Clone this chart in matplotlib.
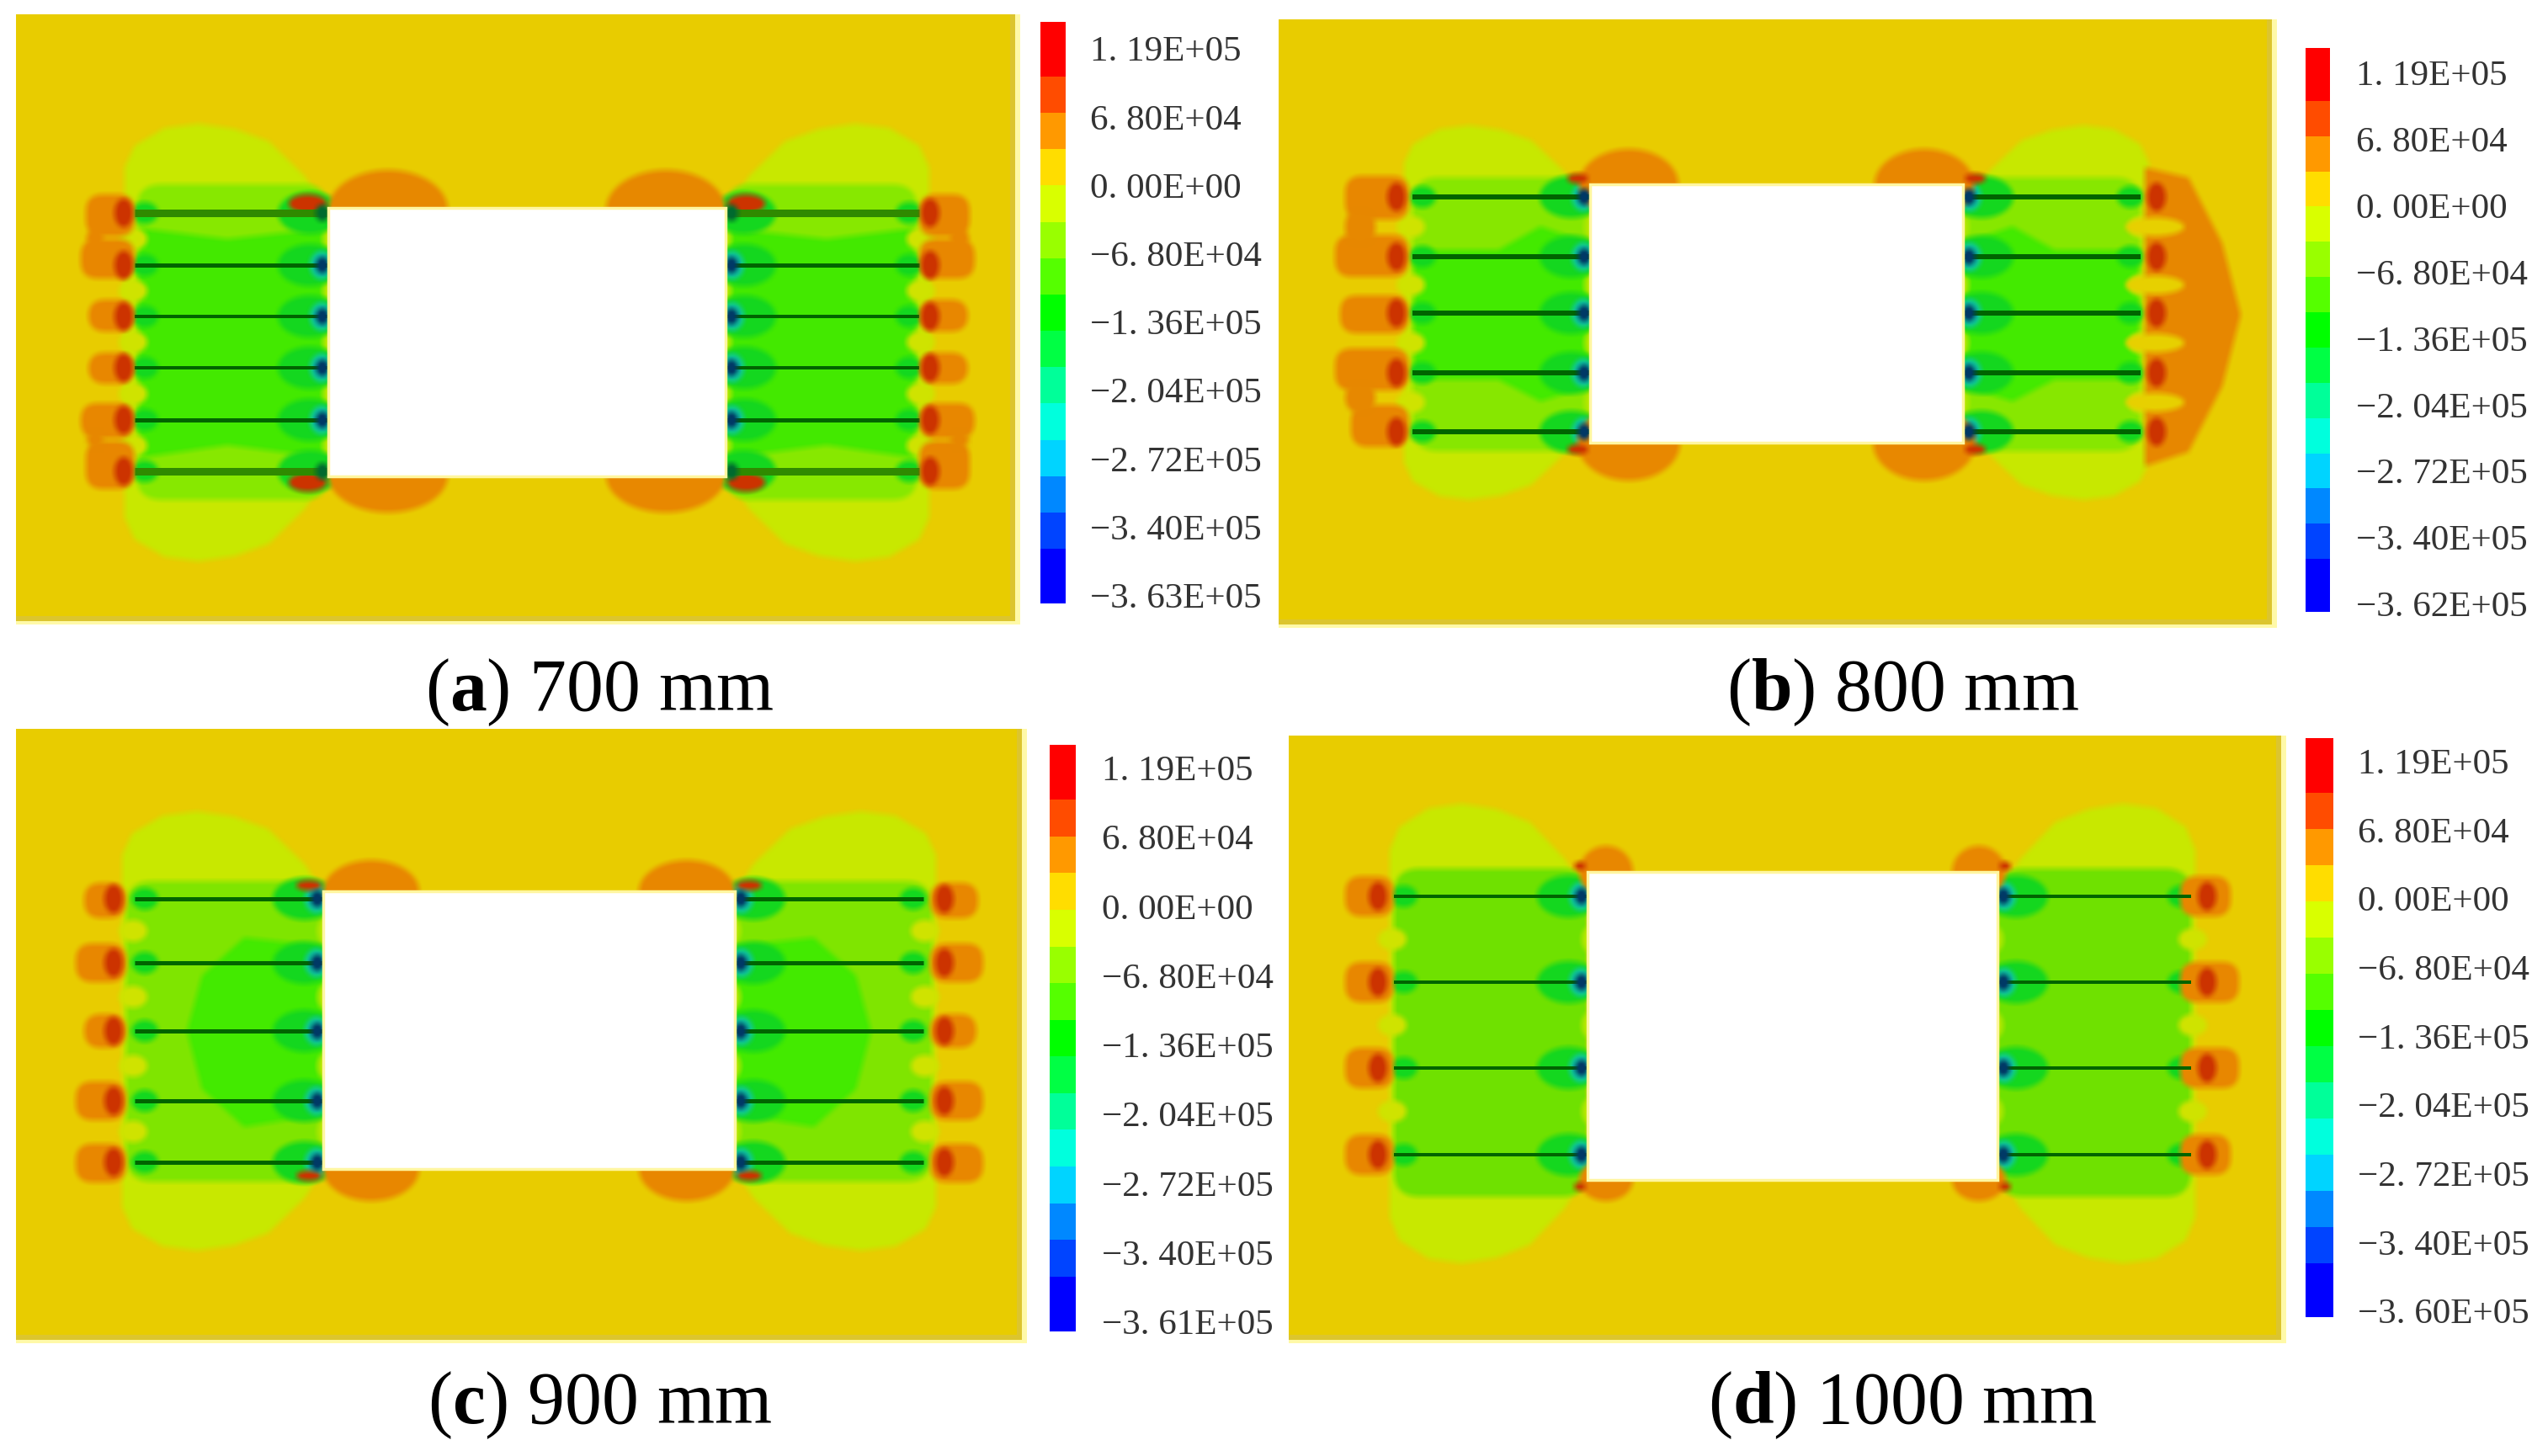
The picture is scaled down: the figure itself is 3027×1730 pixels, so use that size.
import numpy as np
import matplotlib
matplotlib.use("Agg")
import matplotlib.pyplot as plt
from matplotlib.colors import ListedColormap
from matplotlib.patches import Ellipse, FancyBboxPatch, Polygon, Rectangle

plt.rcParams['font.family'] = ['Liberation Serif', 'DejaVu Serif']
plt.rcParams['mathtext.fontset'] = 'custom'
plt.rcParams['mathtext.rm'] = 'Liberation Serif'
plt.rcParams['mathtext.bf'] = 'Liberation Serif:bold'

# colour legend
band_colors = ['#ff0000', '#ff4c00', '#ff9900', '#ffdd00', '#d9ff00', '#99ff00', '#55ff00', '#00ff00',
               '#00ff44', '#00ff99', '#00ffdd', '#00d4ff', '#0088ff', '#0044ff', '#0000ff']
band_weights = [1.5] + [1] * 13 + [1.5]
legend_values = ['1. 19E+05', '6. 80E+04', '0. 00E+00', '−6. 80E+04', '−1. 36E+05',
                 '−2. 04E+05', '−2. 72E+05', '−3. 40E+05']
legend_min = ['−3. 63E+05', '−3. 62E+05', '−3. 61E+05', '−3. 60E+05']
captions = [r'($\mathbf{a}$) 700 mm', r'($\mathbf{b}$) 800 mm', r'($\mathbf{c}$) 900 mm', r'($\mathbf{d}$) 1000 mm']

# all geometry below is in picture pixels
frames = [(19, 1212, 18, 743), (1519, 2705, 24, 747), (19, 1220, 867, 1597), (1531, 2716, 875, 1597)]
holes = [(390, 862, 248, 567), (1889, 2332, 220, 527), (384, 873, 1060, 1390), (1886, 2373, 1037, 1403)]
rows = [[254, 316, 377, 438, 500, 561], [235, 306, 373, 444, 514],
        [1069, 1145, 1226, 1309, 1382], [1066, 1168, 1270, 1373]]
line_starts = [160, 1678, 160, 1656]
red_x = [147, 1659, 135, 1637]
bars = [(1236, 1266, 27, 718), (2739, 2768, 58, 728), (1247, 1278, 886, 1583), (2739, 2772, 878, 1566)]
label_x = [1295, 2799, 1309, 2801]
label_y = [(62, 712), (91, 722), (917, 1575), (909, 1562)]
caption_pos = [(712, 823), (2260, 823), (712, 1670), (2260, 1670)]

# domes above and below the bolt field: x0, x1, y0, y1, and the upper half of their outline as fractions
lime_domes = [(148, 386, 148, 668), (1668, 1878, 150, 595), (145, 386, 965, 1487), (1651, 1882, 956, 1502)]
dome_outline = [(0, 0.5), (0, 0.1), (0.05, 0.05), (0.2, 0.01), (0.37, 0), (0.55, 0.012), (0.72, 0.04), (0.9, 0.12), (1.0, 0.19), (1.0, 0.5)]
lime_bands = [(162, 390, 220, 595), (1678, 1889, 212, 537), (150, 384, 1048, 1405), (1656, 1886, 1033, 1423)]
lime_band_colors = ['#88e800', '#88e800', '#80e600', '#6fe200']
green_polys = [
    [(165, 272), (270, 285), (390, 272), (390, 545), (270, 530), (165, 545)],
    [(1680, 298), (1780, 298), (1830, 270), (1889, 290), (1889, 460), (1830, 478), (1780, 452), (1680, 452)],
    [(222, 1226), (240, 1160), (290, 1115), (384, 1125), (384, 1325), (290, 1340), (240, 1295)],
    [],
]
corner_tops = [(461, 250, 142, 94), (1935, 220, 118, 84), (441, 1060, 114, 74), (1908, 1037, 64, 62)]
corner_bottoms = [(461, 566, 142, 88), (1935, 527, 122, 90), (441, 1390, 114, 76), (1908, 1403, 64, 50)]
corner_red = [(45, 22), (25, 12), (30, 12), (14, 10)]
lobes_left = [
    [(102, 160, 232, 282), (96, 160, 285, 332), (105, 160, 357, 395), (105, 160, 420, 457), (96, 160, 480, 522), (102, 160, 525, 582),
     (102, 124, 270, 297), (102, 124, 512, 535)],
    [(1598, 1674, 210, 262), (1586, 1674, 280, 330), (1592, 1674, 352, 397), (1586, 1674, 415, 465), (1605, 1674, 482, 532),
     (1598, 1634, 250, 292), (1598, 1634, 455, 492)],
    [(100, 150, 1050, 1092), (90, 150, 1122, 1168), (100, 150, 1206, 1246), (90, 150, 1286, 1332), (90, 150, 1360, 1406)],
    [(1598, 1656, 1042, 1090), (1598, 1656, 1144, 1192), (1598, 1656, 1246, 1294), (1598, 1656, 1349, 1397)],
]
lobes_right = [
    [(1092, 1152, 232, 282), (1092, 1158, 285, 332), (1092, 1150, 357, 395), (1092, 1150, 420, 457), (1092, 1158, 480, 522), (1092, 1152, 525, 582),
     (1128, 1152, 270, 297), (1128, 1152, 512, 535)],
    [],
    [(1105, 1162, 1050, 1092), (1105, 1168, 1122, 1168), (1105, 1160, 1206, 1246), (1105, 1168, 1286, 1332), (1105, 1168, 1360, 1406)],
    [(2590, 2650, 1042, 1090), (2590, 2660, 1144, 1192), (2590, 2660, 1246, 1294), (2590, 2650, 1349, 1397)],
]
big_blob_b = [(2548, 200), (2600, 212), (2640, 290), (2662, 375), (2640, 460), (2600, 538), (2548, 555)]
line_widths = [[9, 5, 4, 4, 5, 9], [6, 6, 6, 6, 6], [5, 5, 5, 5, 5], [4, 4, 4, 4]]
blue_outer = [False, True, True, True]

BG = '#e8cc00'
LIME = '#c8e800'
GREEN = '#44ea00'
ORANGE = '#e88800'
DARK_RED = '#cc3300'
LINE = '#006400'
GLOW = '#14d820'
DOT = '#003a66'


def soften(img, dpi):
    # the reference is an upscaled raster, edges are blurry
    pad = 8
    solid = img[..., 3] > 0.99
    color = img[solid][:, :3].mean(axis=0) if solid.any() else img[..., :3].max(axis=(0, 1))
    alpha = np.pad(img[..., 3], pad)
    for axis in (0, 1):
        alpha = sum(np.roll(alpha, k, axis=axis) for k in range(-4, 5)) / 9
    out = np.zeros(alpha.shape + (4,))
    out[..., :3] = color
    out[..., 3] = alpha
    return out, -pad, -pad


def add(ax, patch, z, blur=True):
    if blur:
        patch.set_agg_filter(soften)
    patch.set_zorder(z)
    ax.add_patch(patch)


def ellipse(cx, cy, w, h, color):
    return Ellipse((cx, cy), w, h, facecolor=color, edgecolor='none')


def box(x0, x1, y0, y1, color, round_size=16):
    return FancyBboxPatch((x0, y0), x1 - x0, y1 - y0, boxstyle=f'round,pad=0,rounding_size={round_size}',
                          facecolor=color, edgecolor='none')


def dome_points(x0, x1, y0, y1):
    upper = [(x0 + u * (x1 - x0), y0 + v * (y1 - y0)) for u, v in dome_outline]
    lower = [(x0 + u * (x1 - x0), y1 - v * (y1 - y0)) for u, v in reversed(dome_outline)]
    return upper + lower


fig = plt.figure(figsize=(30.27, 17.31), dpi=100)
ax = fig.add_axes([0, 0, 1, 1])
ax.set_xlim(0, 3027)
ax.set_ylim(1731, 0)
ax.axis('off')

for i in range(4):
    fx0, fx1, fy0, fy1 = frames[i]
    hx0, hx1, hy0, hy1 = holes[i]
    mid = (hx0 + hx1) / 2
    flip = lambda x: 2 * mid - x

    add(ax, Rectangle((fx0, fy0), fx1 - fx0, fy1 - fy0, facecolor='#fff9a8', edgecolor='none'), 1, blur=False)
    add(ax, Rectangle((fx0, fy0), fx1 - fx0 - 6, fy1 - fy0 - 4, facecolor='#dcc52e', edgecolor='none'), 1.1, blur=False)
    add(ax, Rectangle((fx0, fy0), fx1 - fx0 - 12, fy1 - fy0 - 10, facecolor=BG, edgecolor='none'), 1.2, blur=False)

    for side in (False, True):
        fx = flip if side else (lambda x: x)
        dome = [(fx(x), y) for x, y in dome_points(*lime_domes[i])]
        add(ax, Polygon(dome, facecolor=LIME, edgecolor='none'), 2)

        bx0, bx1, by0, by1 = lime_bands[i]
        bx = sorted((fx(bx0), fx(bx1)))
        add(ax, box(bx[0], bx[1], by0, by1, lime_band_colors[i], 30), 3)
        if green_polys[i]:
            add(ax, Polygon([(fx(x), y) for x, y in green_polys[i]], facecolor=GREEN, edgecolor='none'), 4)

        ys = rows[i]
        start = fx(line_starts[i])
        end = hx1 if side else hx0
        sign = 1 if side else -1

        # pale wedges between the rows, at both ends
        for y0, y1 in zip(ys[:-1], ys[1:]):
            ym = (y0 + y1) / 2
            add(ax, ellipse(end - sign * 2, ym, 18, 30, '#b8e800'), 5)
            add(ax, ellipse(start + sign * 2, ym, 34, 26, '#d0e400'), 5)

        # green glow round the bolt heads at the hole and at the far end
        for j, y in enumerate(ys):
            add(ax, ellipse(end + sign * 22, y, 76, 50, GLOW), 5.5)
            add(ax, ellipse(start - sign * 12, y, 32, 26, GLOW), 5.5)
            outer = j in (0, len(ys) - 1)
            if blue_outer[i] or not outer:
                add(ax, ellipse(end + sign * 8, y, 28, 34, '#10c8a0'), 6)

        # orange lobes outside the bolts
        lobes = lobes_right[i] if side else lobes_left[i]
        for x0, x1, y0, y1 in lobes:
            add(ax, box(x0, x1, y0, y1, ORANGE, 20), 7)
        if side and i == 1:
            add(ax, Polygon(big_blob_b, facecolor=ORANGE, edgecolor='none'), 7)
            for y0, y1 in zip(ys[:-1], ys[1:]):
                ym = (y0 + y1) / 2
                add(ax, ellipse(2560, ym, 70, 22, '#e8d000'), 7.5)

        # corners of the hole
        for corner, red_dy in ((corner_tops[i], -7), (corner_bottoms[i], 8)):
            c_x, c_y, c_w, c_h = corner
            add(ax, ellipse(fx(c_x), c_y, c_w, c_h, ORANGE), 7)
            r_w, r_h = corner_red[i]
            red_off = end + sign * (r_w / 2 + 2)
            add(ax, ellipse(red_off, c_y + red_dy, r_w, r_h, DARK_RED), 8)

        # bolts
        for j, y in enumerate(ys):
            ax.plot([start, end], [y, y], color='#2f8a00' if line_widths[i][j] > 6 else LINE,
                    lw=line_widths[i][j] * 0.72, zorder=9, solid_capstyle='butt')
            add(ax, ellipse(fx(red_x[i]), y, 22, 34, DARK_RED), 9)
            outer = j in (0, len(ys) - 1)
            dot_color = '#006a30' if outer and not blue_outer[i] else DOT
            add(ax, ellipse(end + sign * 7, y, 16, 20, dot_color), 9.5)

    add(ax, Rectangle((hx0, hy0), hx1 - hx0, hy1 - hy0, facecolor='white', edgecolor='#fff6a0', lw=2.5), 10, blur=False)

    # colour legend
    bx0, bx1, by0, by1 = bars[i]
    edges = by0 + np.cumsum([0] + band_weights) / sum(band_weights) * (by1 - by0)
    ax.pcolormesh([bx0, bx1], edges, np.arange(15).reshape(-1, 1), cmap=ListedColormap(band_colors),
                  vmin=-0.5, vmax=14.5, zorder=3)
    texts = legend_values + [legend_min[i]]
    for label, y in zip(texts, np.linspace(label_y[i][0], label_y[i][1], len(texts))):
        ax.text(label_x[i], y, label, fontsize=31, color='#333333', va='center', ha='left', zorder=11)

    ax.text(caption_pos[i][0], caption_pos[i][1], captions[i], fontsize=63, color='black',
            ha='center', va='center', zorder=11)

fig.savefig('out.png', dpi=100, facecolor='white')
